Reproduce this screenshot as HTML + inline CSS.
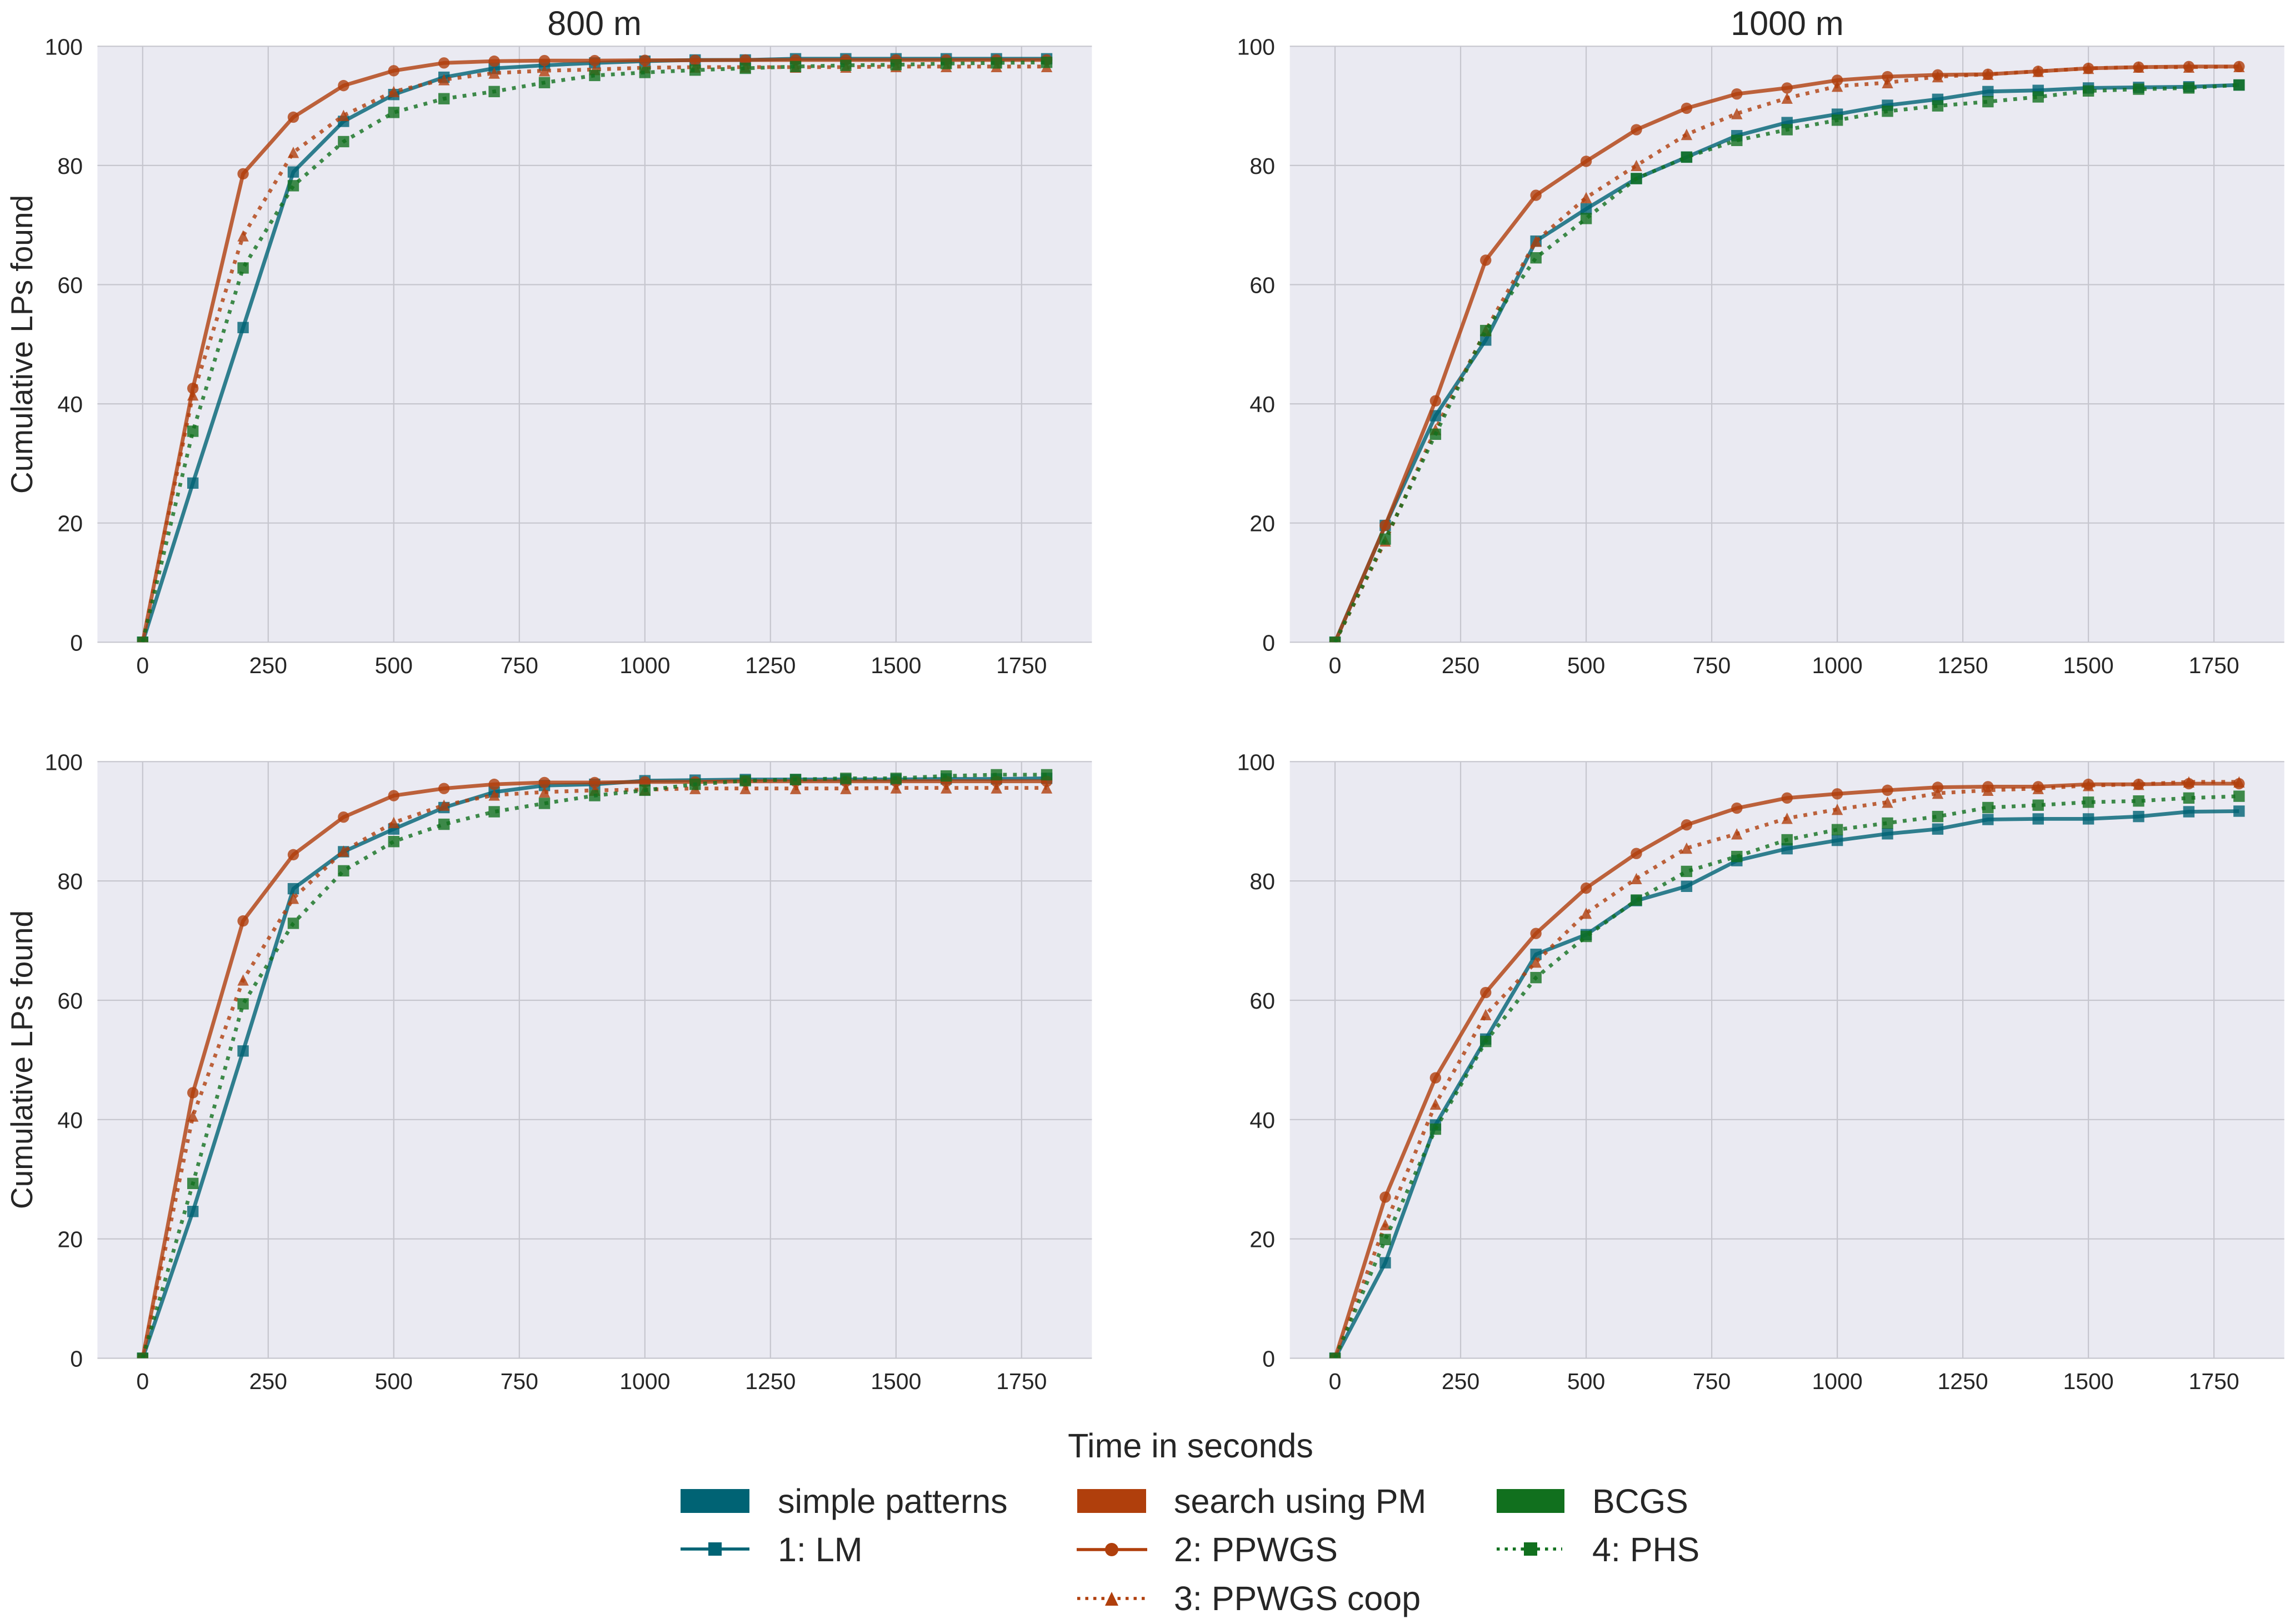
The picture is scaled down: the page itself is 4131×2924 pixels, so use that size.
<!DOCTYPE html>
<html lang="en">
<head>
<meta charset="utf-8">
<title>Cumulative LPs found over time</title>
<style>
html,body{margin:0;padding:0;background:#fff;}
svg{display:block;}
text{font-family:"Liberation Sans",Arial,sans-serif;fill:#262626;}
</style>
</head>
<body>
<svg id="chart" xmlns="http://www.w3.org/2000/svg" width="4131" height="2924" viewBox="0 0 4131 2924">
  <rect x="0" y="0" width="4131" height="2924" fill="#ffffff"/>
  <g id="panels"></g>

  <text x="1070" y="63" font-size="61" text-anchor="middle">800 m</text>
  <text x="3217" y="63" font-size="61" text-anchor="middle">1000 m</text>
  <text transform="translate(58 620) rotate(-90)" font-size="55" text-anchor="middle">Cumulative LPs found</text>
  <text transform="translate(58 1908) rotate(-90)" font-size="55" text-anchor="middle">Cumulative LPs found</text>
  <text x="2143" y="2624" font-size="61" text-anchor="middle">Time in seconds</text>

  <g>
    <rect x="1225" y="2681" width="124" height="43" fill="#006374"/>
    <text x="1400" y="2724" font-size="61">simple patterns</text>
    <line x1="1225" y1="2789" x2="1349" y2="2789" stroke="#006374" stroke-width="5.5"/>
    <rect x="1275" y="2777" width="24" height="24" fill="#006374"/>
    <text x="1400" y="2811" font-size="61">1: LM</text>

    <rect x="1939" y="2681" width="124" height="43" fill="#b03f0c"/>
    <text x="2113" y="2724" font-size="61">search using PM</text>
    <line x1="1938" y1="2790" x2="2065" y2="2790" stroke="#b03f0c" stroke-width="5.5"/>
    <circle cx="2001" cy="2790" r="12" fill="#b03f0c"/>
    <text x="2113" y="2811" font-size="61">2: PPWGS</text>
    <line x1="1939" y1="2878" x2="2063" y2="2878" stroke="#b03f0c" stroke-width="5.5" stroke-dasharray="5.5 9"/>
    <polygon points="2001,2866 2013,2891 1989,2891" fill="#b03f0c"/>
    <text x="2113" y="2899" font-size="61">3: PPWGS coop</text>

    <rect x="2694" y="2681" width="122" height="43" fill="#11701e"/>
    <text x="2866" y="2724" font-size="61">BCGS</text>
    <line x1="2694" y1="2789" x2="2812" y2="2789" stroke="#11701e" stroke-width="5.5" stroke-dasharray="5.5 9"/>
    <rect x="2743" y="2777" width="24" height="24" fill="#11701e"/>
    <text x="2866" y="2811" font-size="61">4: PHS</text>
  </g>
</svg>

<script>
var times = [0,100,200,300,400,500,600,700,800,900,1000,1100,1200,1300,1400,1500,1600,1700,1800];
var xTickLabels = [0,250,500,750,1000,1250,1500,1750];
var yTickLabels = [0,20,40,60,80,100];

var lm800 = [0,26.7,52.8,78.9,87.4,91.9,94.8,96.3,96.8,97.2,97.5,97.7,97.7,97.9,97.9,97.9,97.9,97.9,97.9];
var ppwgs800 = [0,42.6,78.6,88.1,93.4,95.9,97.2,97.5,97.6,97.6,97.65,97.65,97.7,97.7,97.7,97.7,97.7,97.7,97.7];
var coop800 = [0,41.5,68.2,82.2,88.4,92.4,94.4,95.5,95.9,96.1,96.4,96.5,96.5,96.5,96.5,96.6,96.6,96.6,96.6];
var phs800 = [0,35.4,62.8,76.6,84,88.9,91.2,92.4,93.9,95.1,95.6,96,96.3,96.6,96.8,96.9,97.1,97.2,97.3];

var lm1000 = [0,19.6,38,50.7,67.3,72.7,77.8,81.4,85,87.2,88.6,90.1,91.1,92.4,92.6,93,93.1,93.2,93.5];
var ppwgs1000 = [0,19.6,40.5,64.1,75,80.7,86,89.6,92,93,94.3,94.9,95.2,95.3,95.8,96.3,96.5,96.6,96.6];
var coop1000 = [0,17,35.7,52.3,67.3,74.6,80,85.2,88.7,91.3,93.3,93.9,94.9,95.3,95.8,96.3,96.5,96.5,96.6];
var phs1000 = [0,17.3,34.9,52.3,64.5,71.1,77.8,81.4,84.2,86,87.6,89.1,90,90.7,91.5,92.5,92.8,93,93.5];

var lmC = [0,24.6,51.5,78.7,84.9,88.7,92.3,94.9,96,96.2,96.8,96.9,97,97,97,97,97.1,97.1,97.2];
var ppwgsC = [0,44.5,73.3,84.4,90.7,94.3,95.5,96.2,96.5,96.5,96.6,96.6,96.7,96.7,96.7,96.7,96.7,96.7,96.7];
var coopC = [0,40.6,63.4,77.1,85,89.8,92.7,94.4,94.9,95.2,95.3,95.5,95.5,95.5,95.5,95.6,95.6,95.6,95.6];
var phsC = [0,29.3,59.4,72.9,81.7,86.6,89.5,91.6,93,94.3,95.2,96.2,96.8,97,97.2,97.2,97.6,97.8,97.8];

var lmD = [0,16,39.1,53.5,67.7,71,76.7,79.1,83.4,85.4,86.8,87.9,88.7,90.3,90.4,90.4,90.8,91.6,91.7];
var ppwgsD = [0,27,47,61.3,71.2,78.8,84.6,89.4,92.2,93.9,94.6,95.2,95.7,95.8,95.8,96.2,96.2,96.3,96.3];
var coopD = [0,22.4,42.6,57.6,66.4,74.6,80.4,85.5,87.9,90.5,92,93.2,94.7,95.2,95.5,96,96.2,96.6,96.6];
var phsD = [0,19.9,38.4,53.1,63.8,70.7,76.8,81.6,84.1,86.9,88.6,89.7,90.8,92.3,92.7,93.2,93.4,93.9,94.2];

var seriesNames = ['lm','ppwgs','ppwgs-coop','phs'];
var seriesColors = ['#006374','#b03f0c','#b03f0c','#11701e'];
var seriesDashes = ['', '', '6.8 11.2', '6.8 11.2'];
var seriesMarkers = ['square','circle','triangle','square'];

var panels = [
  {id:'800m-top', L:175.4, T:83.3, B:1156.3, tickX:149, data:[lm800,ppwgs800,coop800,phs800]},
  {id:'1000m-top', L:2321.7, T:83.3, B:1156.3, tickX:2295, data:[lm1000,ppwgs1000,coop1000,phs1000]},
  {id:'800m-bottom', L:175.4, T:1371.3, B:2445.5, tickX:149, data:[lmC,ppwgsC,coopC,phsC]},
  {id:'1000m-bottom', L:2321.7, T:1371.3, B:2445.5, tickX:2295, data:[lmD,ppwgsD,coopD,phsD]}
];

var NS = 'http://www.w3.org/2000/svg';
var PANEL_W = 1790;
var XMIN = -90, XMAX = 1890;
var root = document.getElementById('panels');

function mk(tag, parent, attrs) {
  var el = document.createElementNS(NS, tag);
  for (var k in attrs) { el.setAttribute(k, attrs[k]); }
  parent.appendChild(el);
  return el;
}

panels.forEach(function (p, pi) {
  var xs = function (v) { return p.L + (v - XMIN) / (XMAX - XMIN) * PANEL_W; };
  var ys = function (v) { return p.B - v / 100 * (p.B - p.T); };

  var g = mk('g', root, {});
  
  

  var bg = mk('rect', g, {x:p.L, y:p.T, width:PANEL_W, height:p.B - p.T, fill:'#eaeaf2'});
  
  

  var clip = mk('clipPath', g, {id:'clip' + pi});
  mk('rect', clip, {x:p.L, y:p.T, width:PANEL_W, height:p.B - p.T});

  yTickLabels.forEach(function (t) {
    var gl = mk('line', g, {x1:p.L, x2:p.L + PANEL_W, y1:ys(t), y2:ys(t), stroke:'#c6c6ce', 'stroke-width':2.2});
    
    
    var lab = mk('text', g, {x:p.tickX, y:ys(t) + 15, 'font-size':41, 'text-anchor':'end'});
    lab.textContent = String(t);
    
    
  });

  xTickLabels.forEach(function (t) {
    var gl = mk('line', g, {x1:xs(t), x2:xs(t), y1:p.T, y2:p.B, stroke:'#c6c6ce', 'stroke-width':2.2});
    
    
    var lab = mk('text', g, {x:xs(t), y:p.B + 55.5, 'font-size':41, 'text-anchor':'middle'});
    lab.textContent = String(t);
    
    
  });

  var marks = mk('g', g, {'clip-path':'url(#clip' + pi + ')'});
  
  

  p.data.forEach(function (vals, si) {
    var color = seriesColors[si];
    var pts = vals.map(function (v, i) { return xs(times[i]).toFixed(1) + ',' + ys(v).toFixed(1); }).join(' ');
    var line = mk('polyline', marks, {points:pts, fill:'none', stroke:color, 'stroke-width':6.8, 'stroke-opacity':0.8, 'stroke-linejoin':'round'});
    if (seriesDashes[si]) { line.setAttribute('stroke-dasharray', seriesDashes[si]); }
    
    

    vals.forEach(function (v, i) {
      var cx = xs(times[i]), cy = ys(v), m, kind = seriesMarkers[si];
      if (kind === 'square') {
        m = mk('rect', marks, {x:cx - 10.2, y:cy - 10.2, width:20.4, height:20.4, fill:color, 'fill-opacity':0.8});
      } else if (kind === 'circle') {
        m = mk('circle', marks, {cx:cx, cy:cy, r:10.2, fill:color, 'fill-opacity':0.8});
      } else {
        m = mk('polygon', marks, {points:cx + ',' + (cy - 10.2) + ' ' + (cx + 10.2) + ',' + (cy + 10.2) + ' ' + (cx - 10.2) + ',' + (cy + 10.2), fill:color, 'fill-opacity':0.8});
      }
      
      
    });
  });
});
</script>
</body>
</html>
